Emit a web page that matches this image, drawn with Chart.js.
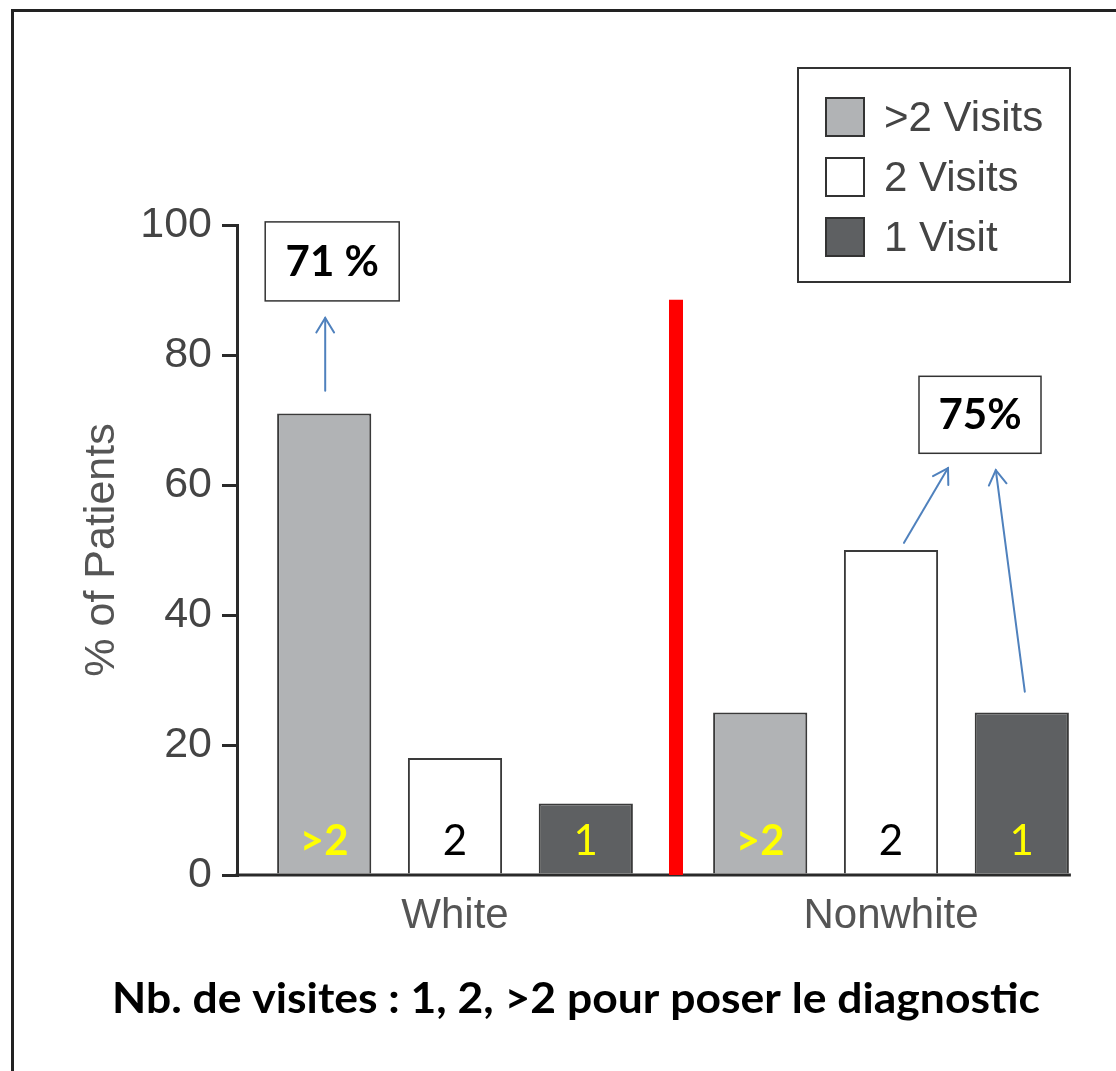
<!DOCTYPE html>
<html><head><meta charset="utf-8">
<script src="https://cdn.jsdelivr.net/npm/chart.js@4.4.1/dist/chart.umd.min.js"></script>
<style>html,body{margin:0;padding:0;background:#fff;} #wrap{width:1116px;height:1071px;}</style>
</head><body><div id="wrap"><canvas id="c" width="1116" height="1071"></canvas></div>
<script>
// ---- data ----
const categories = ['White', 'Nonwhite'];
const seriesLabels = ['>2 Visits', '2 Visits', '1 Visit'];
const moreThan2Visits = [71, 25];
const twoVisits = [18, 50];
const oneVisit = [11, 25];
const barTags = ['>2', '2', '1'];
const yTicks = [0, 20, 40, 60, 80, 100];
const yTitle = '% of Patients';
const whiteCallout = '71 %';
const nonwhiteCallout = '75%';
const dividerTop = 88.5;
const footnote = 'Nb. de visites : 1, 2, >2 pour poser le diagnostic';

// ---- styles ----
const FONT_AX = '"Liberation Sans", Arial, sans-serif';
const FONT_CAL = 'Lato, "Open Sans", sans-serif';
const fills = ['#b1b3b5', '#ffffff', '#5e6062'];
const tagColors = ['#ffff00', '#000000', '#ffff00'];
const tagWeights = ['bold', 'normal', 'normal'];
const ARROW = '#4f81bd';

function arrow(ctx, x1, y1, x2, y2) {
  ctx.save();
  ctx.strokeStyle = ARROW; ctx.lineWidth = 2; ctx.lineCap = 'round';
  ctx.beginPath(); ctx.moveTo(x1, y1); ctx.lineTo(x2, y2); ctx.stroke();
  const a = Math.atan2(y2 - y1, x2 - x1), L = 17, s = 0.55;
  ctx.beginPath();
  ctx.moveTo(x2 - L * Math.cos(a - s), y2 - L * Math.sin(a - s));
  ctx.lineTo(x2, y2);
  ctx.lineTo(x2 - L * Math.cos(a + s), y2 - L * Math.sin(a + s));
  ctx.stroke();
  ctx.restore();
}
function callout(ctx, cx, cy, w, h, text) {
  ctx.save();
  ctx.fillStyle = '#fff'; ctx.fillRect(cx - w / 2, cy - h / 2, w, h);
  ctx.strokeStyle = '#333'; ctx.lineWidth = 1.5;
  ctx.strokeRect(cx - w / 2, cy - h / 2, w, h);
  ctx.fillStyle = '#000'; ctx.font = 'bold 42px ' + FONT_CAL;
  ctx.textAlign = 'center'; ctx.textBaseline = 'middle';
  ctx.fillText(text, cx, cy + 1);
  ctx.restore();
}

const overlay = {
  id: 'overlay',
  afterDatasetsDraw(chart) {
    const ctx = chart.ctx, y = chart.scales.y, y0 = y.getPixelForValue(0);
    ctx.save();
    ctx.textAlign = 'center'; ctx.textBaseline = 'alphabetic';
    chart.data.datasets.forEach((ds, i) => {
      chart.getDatasetMeta(i).data.forEach(bar => {
        ctx.font = tagWeights[i] + ' 42px ' + FONT_CAL;
        ctx.fillStyle = tagColors[i];
        ctx.fillText(barTags[i], bar.x, y0 - 20);
      });
    });
    ctx.restore();
  },
  afterDraw(chart) {
    const ctx = chart.ctx, y = chart.scales.y, ca = chart.chartArea;
    const y0 = y.getPixelForValue(0);
    const m0 = chart.getDatasetMeta(0).data, m1 = chart.getDatasetMeta(1).data, m2 = chart.getDatasetMeta(2).data;
    ctx.save();
    // outer frame
    ctx.strokeStyle = '#222'; ctx.lineWidth = 3;
    ctx.strokeRect(12.5, 10.5, 1400, 1400);
    // x axis line
    const lastBar = m2[m2.length - 1];
    ctx.strokeStyle = '#2a2a2a'; ctx.lineWidth = 3;
    ctx.beginPath(); ctx.moveTo(ca.left - 1.5, y0); ctx.lineTo(lastBar.x + lastBar.width / 2 + 2, y0); ctx.stroke();
    // red divider between groups
    const dx = (m2[0].x + m2[0].width / 2 + m0[1].x - m0[1].width / 2) / 2 + 3;
    ctx.fillStyle = '#ff0000';
    const dt = y.getPixelForValue(dividerTop);
    ctx.fillRect(dx - 7, dt, 14, y0 - dt);
    // callouts
    const b = m0[0];
    callout(ctx, b.x + 8, y.getPixelForValue(94.4), 134, 79, whiteCallout);
    arrow(ctx, b.x + 1, y.getPixelForValue(74.5), b.x + 1, y.getPixelForValue(85.7));
    const c1 = m1[1], c2 = m2[1];
    callout(ctx, c1.x + 89, y.getPixelForValue(70.8), 122, 77, nonwhiteCallout);
    arrow(ctx, c1.x + 13, y.getPixelForValue(51.1), c1.x + 57, y.getPixelForValue(62.6));
    arrow(ctx, c2.x + 3, y.getPixelForValue(28.2), c2.x - 26, y.getPixelForValue(62.3));
    // legend
    ctx.strokeStyle = '#333'; ctx.lineWidth = 2;
    ctx.fillStyle = '#fff';
    ctx.fillRect(798, 68, 272, 214);
    ctx.strokeRect(798, 68, 272, 214);
    ctx.font = '42px ' + FONT_AX; ctx.textBaseline = 'middle'; ctx.textAlign = 'left';
    chart.data.datasets.forEach((ds, i) => {
      const cy = 117 + i * 60;
      ctx.fillStyle = ds.backgroundColor;
      ctx.fillRect(826, cy - 19, 38, 38);
      ctx.strokeStyle = '#333'; ctx.lineWidth = 2;
      ctx.strokeRect(826, cy - 19, 38, 38);
      ctx.fillStyle = '#444';
      ctx.fillText(ds.label, 884, cy + 2);
    });
    // footnote (stretched to the reference width)
    ctx.fillStyle = '#000'; ctx.textAlign = 'center'; ctx.textBaseline = 'alphabetic';
    ctx.font = 'bold 42px ' + FONT_CAL;
    const w = ctx.measureText(footnote).width;
    const sx = Math.max(0.85, Math.min(1.15, 928 / w));
    ctx.translate(576, 1013);
    ctx.scale(sx, 1);
    ctx.fillText(footnote, 0, 0);
    ctx.restore();
  }
};

const seriesData = [moreThan2Visits, twoVisits, oneVisit];
new Chart(document.getElementById('c'), {
  type: 'bar',
  data: {
    labels: categories,
    datasets: seriesData.map((d, i) => ({
      label: seriesLabels[i], data: d,
      backgroundColor: fills[i], borderColor: '#3a3a3a', borderWidth: 2,
      categoryPercentage: 0.9, barPercentage: 0.72
    }))
  },
  options: {
    responsive: false, animation: false, devicePixelRatio: 1,
    layout: { padding: { top: 225, right: 7, bottom: 0, left: 0 } },
    plugins: { legend: { display: false }, tooltip: { enabled: false } },
    scales: {
      y: {
        min: 0, max: 100,
        afterFit(s) { s.width = 237; },
        afterBuildTicks(s) { s.ticks = yTicks.map(v => ({ value: v })); },
        ticks: { font: { family: FONT_AX, size: 43 }, color: '#444', padding: 10 },
        grid: { drawOnChartArea: false, drawTicks: true, tickLength: 15, lineWidth: 3, color: '#2a2a2a' },
        border: { display: true, color: '#2a2a2a', width: 3 },
        title: { display: true, text: yTitle, font: { family: FONT_AX, size: 43 }, color: '#555', padding: { top: 76, bottom: 0 } }
      },
      x: {
        afterFit(s) { s.height = 196; },
        ticks: { font: { family: FONT_AX, size: 42 }, color: '#555', padding: 16 },
        grid: { display: false, drawTicks: false },
        border: { display: false }
      }
    }
  },
  plugins: [overlay]
});
</script>
</body></html>
